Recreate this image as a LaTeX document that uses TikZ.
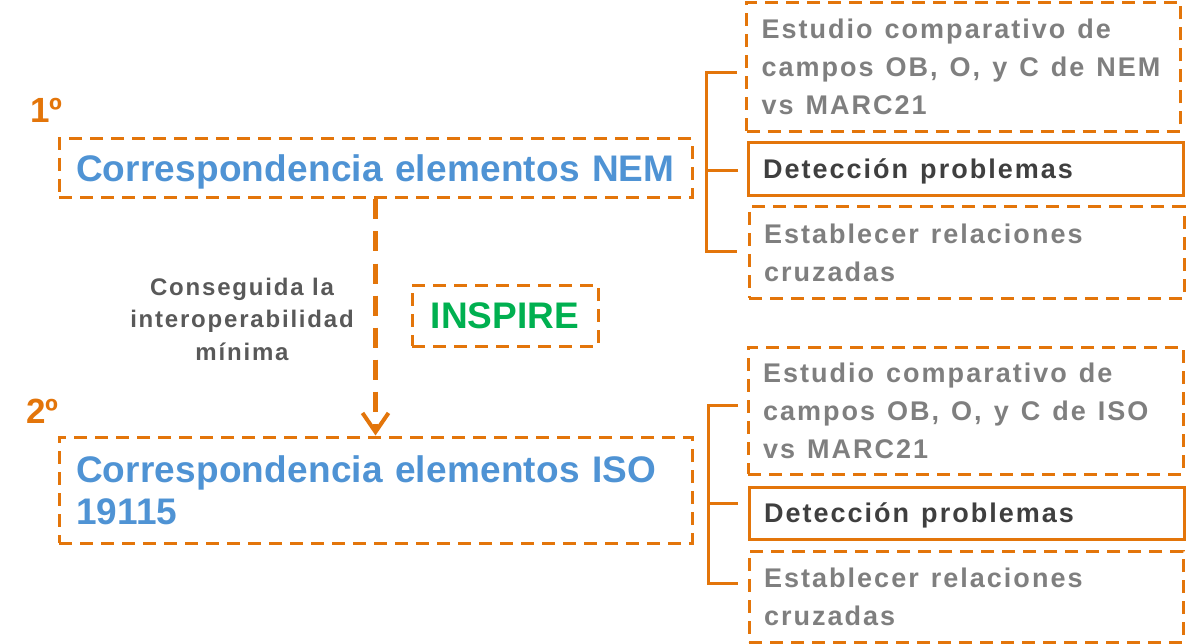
\documentclass[tikz,border=0pt]{standalone}
\usepackage{fontspec}
\setmainfont{Liberation Sans}
\newfontfamily\spfont{Liberation Sans}[LetterSpace=7.5]
\newfontfamily\bigfont{Liberation Sans}[LetterSpace=0.5]
\newcommand{\wsp}{\spaceskip=12pt\relax}
\usetikzlibrary{arrows.meta}
\definecolor{orng}{HTML}{E3750A}
\definecolor{blu}{HTML}{4F93D4}
\definecolor{grn}{HTML}{00B050}
\definecolor{gry}{HTML}{7F7F7F}
\definecolor{dgry}{HTML}{3F3F3F}
\definecolor{lgry}{HTML}{595959}
\begin{document}
\begin{tikzpicture}[x=1pt,y=-1pt,
  dbox/.style={draw=orng, line width=3pt, dash pattern=on 13pt off 8pt, inner ysep=0pt},
  sbox/.style={draw=orng, line width=3pt, inner ysep=0pt},
  bigtxt/.style={text=blu, font=\bigfont\bfseries\fontsize{37}{42}\selectfont, align=left, inner xsep=17pt, text width=599pt},
  rtxt/.style={font=\spfont\bfseries\fontsize{27}{38}\selectfont, align=left, inner xsep=15pt, text width=#1},
  ordn/.style={anchor=base west, text=orng, font=\bfseries\fontsize{35}{40}\selectfont, inner sep=0pt},
  brk/.style={draw=orng, line width=3pt}
]
\useasboundingbox (0,0) rectangle (1193,644);

% ordinal labels
\node[ordn] (n1) at (30,123) {1º};
\node[ordn] (n2) at (26,423) {2º};

% main boxes
\node[dbox, bigtxt, minimum width=633pt, minimum height=59pt, text depth=0pt] (nem) at (375.5,168.5) {Correspondencia elementos NEM};
\node[dbox, bigtxt, minimum width=633pt, minimum height=106pt] (iso) at (375.5,490) {Correspondencia elementos ISO\\19115};

% INSPIRE
\node[dbox, minimum width=186pt, minimum height=61pt, text=grn, font=\bfseries\fontsize{37}{42}\selectfont] (insp) at (505,315.5) {INSPIRE};

% label
\node[align=center, text=lgry, font=\spfont\bfseries\fontsize{24}{32.5}\selectfont, inner sep=0pt] (lbl) at (242,319) {Conseguida la\\interoperabilidad\\mínima};

% arrow
\draw[orng, line width=4.5pt, dash pattern=on 20pt off 12pt, -{Straight Barb[length=19pt,width=26pt,line width=4pt]}] (nem.south) -- (iso.north);

% right boxes, group 1
\node[dbox, rtxt=404pt, text=gry, minimum width=434pt, minimum height=129pt] (a1) at (963.5,67) {\wsp Estudio comparativo de\\campos OB, O, y C de NEM\\vs MARC21};
\node[sbox, rtxt=405pt, text=dgry, minimum width=435pt, minimum height=53pt, text depth=0pt] (a2) at (965.5,169) {\wsp Detección problemas};
\node[dbox, rtxt=405pt, text=gry, minimum width=435pt, minimum height=91pt] (a3) at (966.5,252.5) {\wsp Establecer relaciones\\cruzadas};

% right boxes, group 2
\node[dbox, rtxt=405pt, text=gry, minimum width=435pt, minimum height=127pt] (b1) at (965.5,410.5) {\wsp Estudio comparativo de\\campos OB, O, y C de ISO\\vs MARC21};
\node[sbox, rtxt=405pt, text=dgry, minimum width=435pt, minimum height=52pt, text depth=0pt] (b2) at (966.5,513) {\wsp Detección problemas};
\node[dbox, rtxt=404pt, text=gry, minimum width=434pt, minimum height=91pt] (b3) at (966,596.5) {\wsp Establecer relaciones\\cruzadas};

% brackets
\coordinate (ta) at (737,73);
\coordinate (tb) at (738,171);
\coordinate (tc) at (737,252);
\coordinate (sa) at (706,73);
\draw[brk] (ta) -- (sa) |- (tc);
\draw[brk] (tb) -- (tb -| sa);

\coordinate (ua) at (738,405);
\coordinate (ub) at (738,503);
\coordinate (uc) at (738,583);
\coordinate (sb) at (708,405);
\draw[brk] (ua) -- (sb) |- (uc);
\draw[brk] (ub) -- (ub -| sb);
\end{tikzpicture}
\end{document}
